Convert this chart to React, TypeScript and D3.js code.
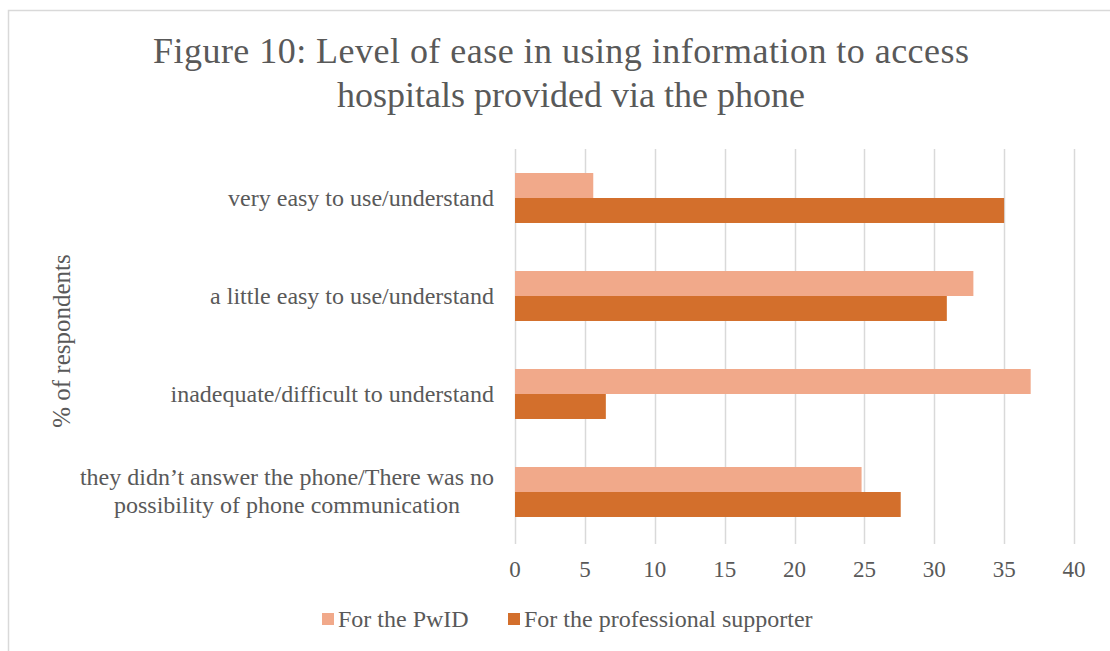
import React, { useRef, useEffect } from "react";
import * as d3 from "d3";

const categories = [
  "very easy to use/understand",
  "a little easy to use/understand",
  "inadequate/difficult to understand",
  "they didn\u2019t answer the phone/There was no|possibility of phone communication",
];
const seriesNames = ["For the PwID", "For the professional supporter"];
const pwidValues = [5.6, 32.8, 36.9, 24.8];
const supporterValues = [35.0, 30.9, 6.5, 27.6];
const xTicks = [0, 5, 10, 15, 20, 25, 30, 35, 40];

const COLORS = ["#F1A98A", "#D36F2C"];
const FONT = "'Liberation Serif', 'Times New Roman', serif";
const TEXT = "#595959";

const App = () => {
  const ref = useRef<SVGSVGElement>(null);

  useEffect(() => {
    const svg = d3.select(ref.current);
    svg.selectAll("*").remove();

    const width = 1110;
    const height = 651;
    const left = 515;
    const right = 1074;
    const top = 149;
    const bottom = 541;

    svg.attr("width", width).attr("height", height);

    svg.append("rect").attr("width", width).attr("height", height).attr("fill", "#fff");
    // chart area border
    svg
      .append("rect")
      .attr("x", 8.5)
      .attr("y", 10.5)
      .attr("width", 1110)
      .attr("height", 700)
      .attr("fill", "none")
      .attr("stroke", "#D9D9D9")
      .attr("stroke-width", 1.5);

    // title
    const title = svg
      .append("text")
      .attr("text-anchor", "middle")
      .style("font-family", FONT)
      .style("font-size", "36px")
      .style("fill", TEXT);
    title
      .append("tspan")
      .attr("x", 561)
      .attr("y", 63)
      .attr("textLength", 816)
      .attr("lengthAdjust", "spacing")
      .text("Figure 10: Level of ease in using information to access");
    title.append("tspan").attr("x", 571).attr("y", 107).text("hospitals provided via the phone");

    const x = d3.scaleLinear().domain([0, 40]).range([left, right]);
    const y0 = d3.scaleBand().domain(categories).range([top, bottom]).paddingInner(0.49).paddingOuter(0.245);
    const y1 = d3.scaleBand().domain(seriesNames).range([0, y0.bandwidth()]);

    // gridlines
    svg
      .append("g")
      .selectAll("line")
      .data(xTicks)
      .enter()
      .append("line")
      .attr("x1", (d) => Math.round(x(d)) + 0.5)
      .attr("x2", (d) => Math.round(x(d)) + 0.5)
      .attr("y1", top)
      .attr("y2", bottom + 3)
      .attr("stroke", "#D9D9D9")
      .attr("stroke-width", 1.5);

    // tick labels
    svg
      .append("g")
      .selectAll("text")
      .data(xTicks)
      .enter()
      .append("text")
      .attr("x", (d) => x(d))
      .attr("y", 577)
      .attr("text-anchor", "middle")
      .style("font-family", FONT)
      .style("font-size", "23px")
      .style("fill", TEXT)
      .text((d) => d);

    // bars
    const rows = categories.map((c, i) => ({ c, vals: [pwidValues[i], supporterValues[i]] }));
    const groups = svg
      .append("g")
      .selectAll("g")
      .data(rows)
      .enter()
      .append("g")
      .attr("transform", (d) => `translate(0,${y0(d.c)})`);
    groups
      .selectAll("rect")
      .data((d) => d.vals.map((v, j) => ({ v, s: seriesNames[j], j })))
      .enter()
      .append("rect")
      .attr("x", x(0))
      .attr("y", (d) => y1(d.s))
      .attr("width", (d) => x(d.v) - x(0))
      .attr("height", y1.bandwidth())
      .attr("fill", (d) => COLORS[d.j]);

    // category labels
    categories.forEach((c) => {
      const lines = c.split("|");
      const cy = y0(c) + y0.bandwidth() / 2;
      const t = svg
        .append("text")
        .style("font-family", FONT)
        .style("font-size", "24px")
        .style("fill", TEXT);
      if (lines.length === 1) {
        t.attr("x", 494).attr("y", cy + 8).attr("text-anchor", "end").text(c);
      } else {
        lines.forEach((l, k) => {
          t.append("tspan")
            .attr("x", k === 0 ? 494 : 287)
            .attr("text-anchor", k === 0 ? "end" : "middle")
            .attr("y", cy - 7 + k * 28)
            .text(l);
        });
      }
    });

    // y-axis title
    svg
      .append("text")
      .attr("transform", "translate(70,341) rotate(-90)")
      .attr("text-anchor", "middle")
      .style("font-family", FONT)
      .style("font-size", "25px")
      .style("fill", TEXT)
      .text("% of respondents");

    // legend
    const legendX = [322, 508];
    seriesNames.forEach((s, i) => {
      svg
        .append("rect")
        .attr("x", legendX[i])
        .attr("y", 613)
        .attr("width", 12)
        .attr("height", 12)
        .attr("fill", COLORS[i]);
      svg
        .append("text")
        .attr("x", legendX[i] + 16)
        .attr("y", 627)
        .style("font-family", FONT)
        .style("font-size", "24px")
        .style("fill", TEXT)
        .text(s);
    });
  }, []);

  return <svg ref={ref} style={{ position: "absolute", left: 0, top: 0, display: "block" }}></svg>;
};

export default App;
